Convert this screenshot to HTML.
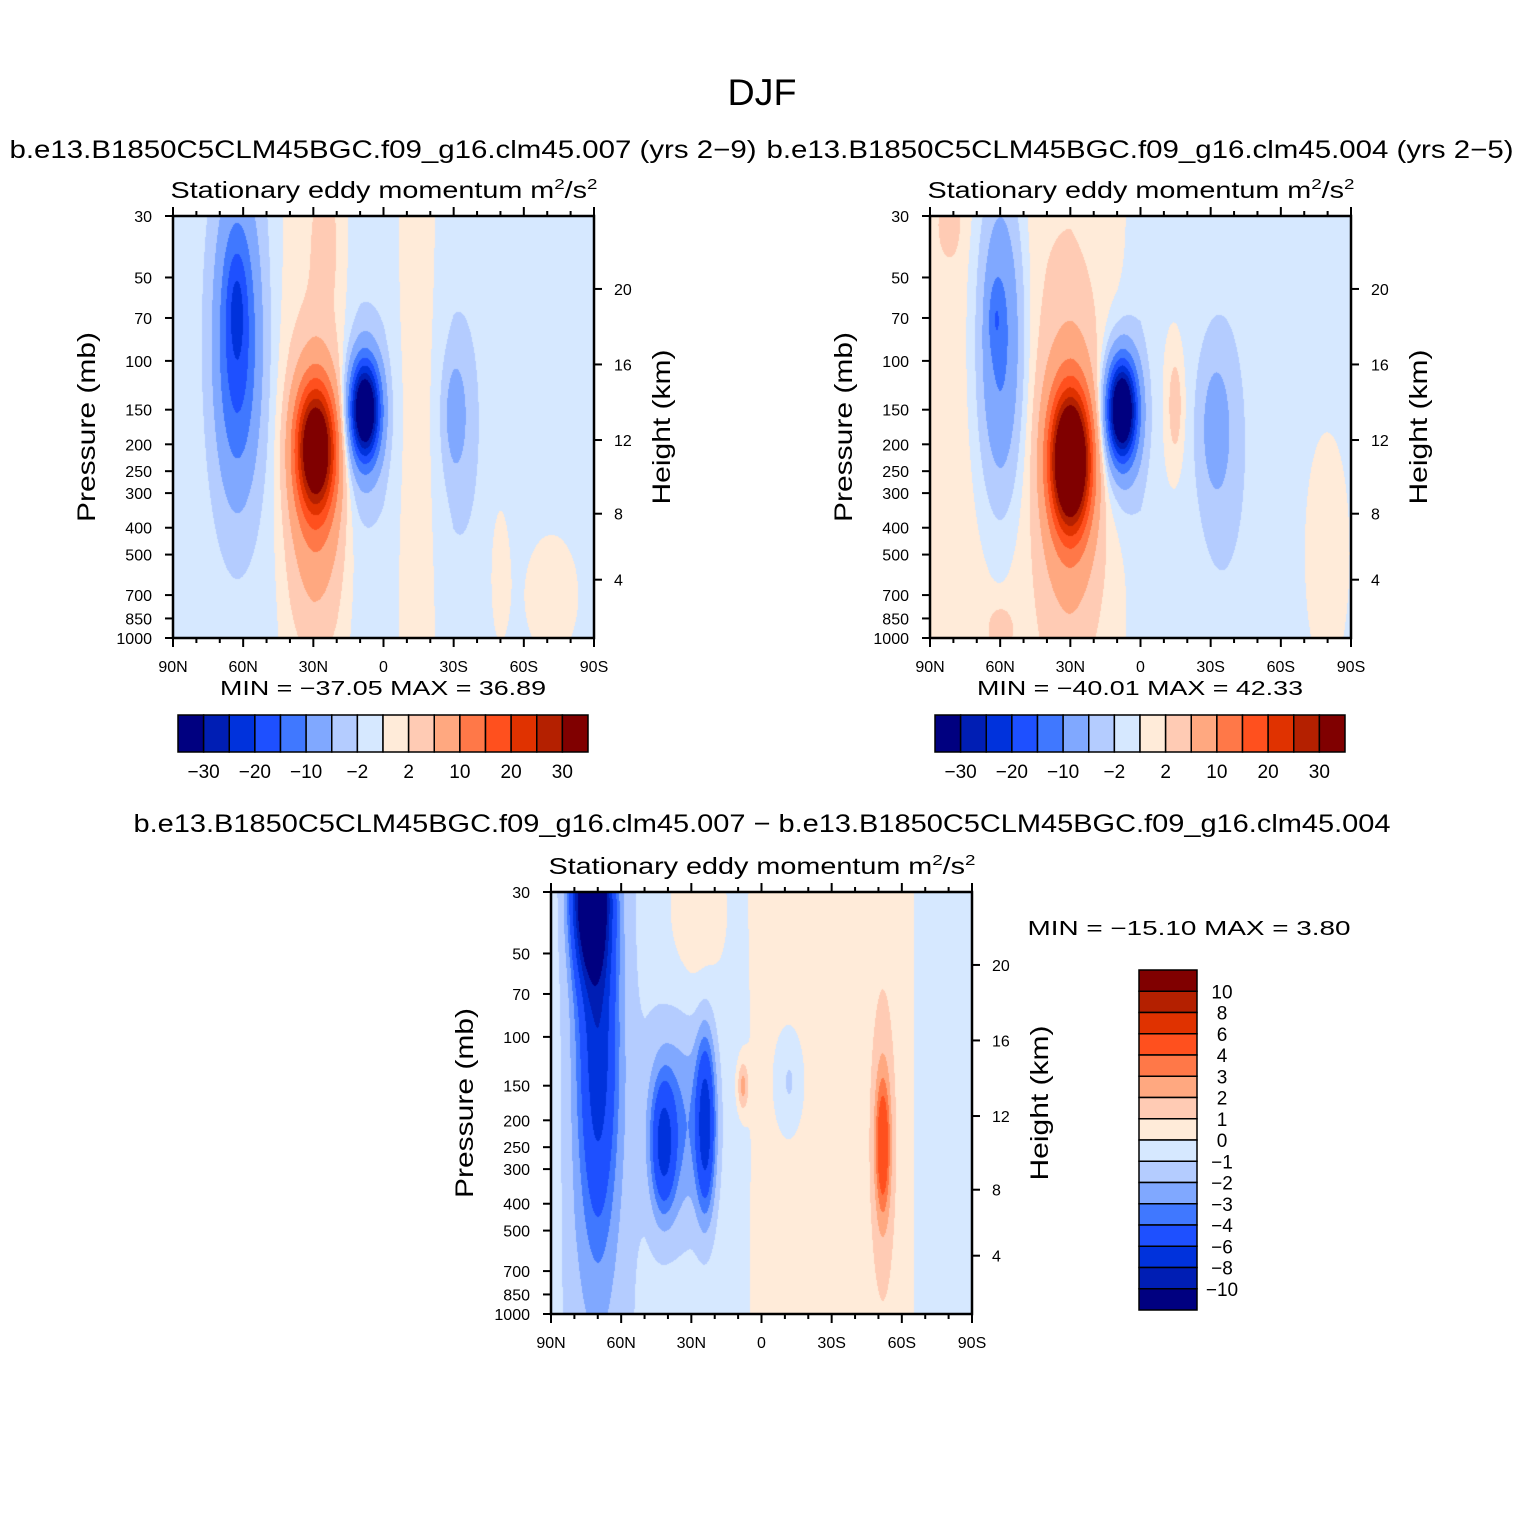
<!DOCTYPE html>
<html><head><meta charset="utf-8">
<style>
body{margin:0;background:#fff;}
#wrap{position:relative;width:1524px;height:1524px;overflow:hidden;background:#fff;font-family:"Liberation Sans",sans-serif;}
canvas{position:absolute;}
svg{position:absolute;left:0;top:0;}
</style></head>
<body>
<div id="wrap">
<canvas id="c1" width="421" height="422" style="left:173px;top:216px"></canvas>
<canvas id="c2" width="421" height="422" style="left:930px;top:216px"></canvas>
<canvas id="c3" width="421" height="422" style="left:551px;top:892px"></canvas>
<svg id="s" width="1524" height="1524"></svg>
</div>
<script>
// ---------- data ----------
const colors = ["#000080","#001eb4","#0032dc","#1e50ff","#4078ff","#80a8ff","#b4ccff","#d6e8ff","#ffebd9","#ffcbb4","#ffa880","#ff7848","#ff501e","#e03200","#b42000","#800000"];
const levelsAbs = [-30,-25,-20,-15,-10,-5,-2,0,2,5,10,15,20,25,30];
const levelsDiff = [-10,-8,-6,-4,-3,-2,-1,0,1,2,3,4,6,8,10];
const pTicks = [30,50,70,100,150,200,250,300,400,500,700,850,1000];
const hTickLabels = [4,8,12,16,20];
const hTickPressure = [616,356,193,103,55];
const latTickLabels = ["90N","60N","30N","0","30S","60S","90S"];
const latTicks = [90,60,30,0,-30,-60,-90];
const bgLats = [90,80,70,60,50,40,30,20,10,0,-10,-20,-30,-40,-50,-60,-70,-80,-90];
const bg1 = [-0.5,-1,-1,-1,-1,0.5,0.8,0.5,-1,-1,0.5,0.3,-1,-1,-1,-1,-1,-1,-1];
const bg2 = [0.6,0.9,0.8,0.8,1,1.5,1.5,1,0.6,-1,-0.4,-1,-1,-1,-1,-1,-1,-1,-1];
const bg3 = [-0.5,-1.5,-1.5,-1.3,-0.7,-0.5,-0.4,-0.4,-0.3,0.3,0.4,0.5,0.5,0.5,0.5,0.5,-0.4,-0.5,-0.5];
// blobs: [lat, pressure-fraction, amplitude, lat-width, frac-width]
const blobs1 = [[62.6,0.3,-18,9,0.33],[63,0.2,-5,4,0.12],[29,0.55,34,8,0.14],[29,0.62,11,11,0.3],[8,0.46,-38,6,0.11],[8,0.48,-6,9,0.2],[-30.6,0.47,-5,5,0.13],[-33,0.5,-2,9,0.3],[25,0.05,2.5,6,0.15],[-72,0.9,2.5,12,0.15],[-50,0.85,1.8,5,0.2]];
const blobs2 = [[60,0.3,-12,9,0.35],[62,0.24,-5,3,0.08],[30,0.58,44,8,0.15],[30,0.6,10,12,0.33],[8,0.46,-40,6,0.11],[8,0.48,-7,9,0.2],[-15,0.45,4,4,0.15],[-32,0.5,-5,6,0.15],[-35,0.55,-2.5,10,0.3],[82,0.02,3,5,0.08],[60,0.98,4,5,0.05],[-80,0.8,2.5,10,0.3]];
const blobs3 = [[73,0.0,-15,7,0.18],[70,0.35,-6,8,0.45],[42,0.6,-5,5,0.15],[24,0.55,-6,4,0.2],[35,0.55,-2.5,14,0.25],[8,0.46,2.6,2.5,0.06],[-52,0.6,4,3,0.15],[-52,0.6,1.5,5,0.35],[-12,0.45,-1.5,6,0.12],[28,0.05,1.2,12,0.2]];

// ---------- drawing ----------
const W=421,H=422;
function pFrac(p){return Math.log(p/30)/Math.log(1000/30);}
function bgAt(bg,lat){
  const i=Math.min(17,Math.floor((90-lat)/10));const t=(90-lat)/10-i;
  return bg[i]*(1-t)+bg[i+1]*t;
}
function hexToRgb(h){return [parseInt(h.substr(1,2),16),parseInt(h.substr(3,2),16),parseInt(h.substr(5,2),16)];}
const rgb=colors.map(hexToRgb);
function drawField(id,bg,blobs,levels){
  const ctx=document.getElementById(id).getContext('2d');
  const img=ctx.createImageData(W,H);
  for(let y=0;y<H;y++){const f=y/(H-1);
    for(let x=0;x<W;x++){const lat=90-x/(W-1)*180;
      let v=bgAt(bg,lat);
      for(const b of blobs){const dl=(lat-b[0])/b[3],df=(f-b[1])/b[4];v+=b[2]*Math.exp(-dl*dl-df*df);}
      let k=0;while(k<levels.length&&v>levels[k])k++;
      const c=rgb[k],o=(y*W+x)*4;img.data[o]=c[0];img.data[o+1]=c[1];img.data[o+2]=c[2];img.data[o+3]=255;}
  }
  ctx.putImageData(img,0,0);
}
drawField('c1',bg1,blobs1,levelsAbs);
drawField('c2',bg2,blobs2,levelsAbs);
drawField('c3',bg3,blobs3,levelsDiff);

const svg=document.getElementById('s');const NS="http://www.w3.org/2000/svg";
function el(tag,attrs,txt){const e=document.createElementNS(NS,tag);for(const k in attrs)e.setAttribute(k,attrs[k]);if(txt!==undefined)e.innerHTML=txt;svg.appendChild(e);return e;}
function txt(x,y,s,size,anchor,name,rot,len){
  const e=el('text',{x:x,y:y,'font-size':size,'text-anchor':anchor||'middle','font-family':'Liberation Sans, sans-serif',fill:'#000'},s);
  if(len){e.setAttribute('textLength',len);e.setAttribute('lengthAdjust','spacingAndGlyphs');}
  if(rot)e.setAttribute('transform','rotate(-90 '+x+' '+y+')');
  
  
  return e;
}
function axes(x0,y0,tag){
  const r=el('rect',{x:x0,y:y0,width:W,height:H,fill:'none',stroke:'#000','stroke-width':2.5});
  
  
  const xs=lat=>x0+(90-lat)/180*W, ys=p=>y0+pFrac(p)*H;
  for(let lat=90;lat>=-90;lat-=10){const major=lat%30===0;const x=xs(lat);const L=major?9:5;
    el('line',{x1:x,y1:y0+H,x2:x,y2:y0+H+L,stroke:'#000','stroke-width':2});
    el('line',{x1:x,y1:y0,x2:x,y2:y0-L,stroke:'#000','stroke-width':2});}
  latTicks.forEach((lat,i)=>txt(xs(lat),y0+H+34,latTickLabels[i],16,'middle','x-tick-label'));
  pTicks.forEach(p=>{const y=ys(p);el('line',{x1:x0-8,y1:y,x2:x0,y2:y,stroke:'#000','stroke-width':2});
    txt(x0-21,y+6,String(p),16,'end','y-tick-label');});
  hTickPressure.forEach((p,i)=>{const y=ys(p);el('line',{x1:x0+W,y1:y,x2:x0+W+8,y2:y,stroke:'#000','stroke-width':2});
    txt(x0+W+20,y+6,String(hTickLabels[i]),16,'start','height-tick-label');});
  txt(x0-78,y0+211,'Pressure (mb)',25,'middle','y-axis-title',true,190);
  txt(x0+W+76,y0+211,'Height (km)',25,'middle','height-axis-title',true,155);
  txt(x0+211,y0-18,'Stationary eddy momentum  m<tspan dy="-9" font-size="15">2</tspan><tspan dy="9">/s</tspan><tspan dy="-9" font-size="15">2</tspan>',23,'middle','panel-title',false,427);
}
axes(173,216,'a');axes(930,216,'b');axes(551,892,'c');

txt(762,105,'DJF',37,'middle','figure-title',false,69);
txt(383,158,'b.e13.B1850C5CLM45BGC.f09_g16.clm45.007 (yrs 2−9)',25,'middle','case-title-left',false,747);
txt(1140,158,'b.e13.B1850C5CLM45BGC.f09_g16.clm45.004 (yrs 2−5)',25,'middle','case-title-right',false,747);
txt(762,832,'b.e13.B1850C5CLM45BGC.f09_g16.clm45.007 − b.e13.B1850C5CLM45BGC.f09_g16.clm45.004',25,'middle','diff-title',false,1257);
txt(383,695,'MIN = −37.05   MAX =   36.89',20,'middle','minmax-left',false,326);
txt(1140,695,'MIN = −40.01   MAX =   42.33',20,'middle','minmax-right',false,326);
txt(1189,935,'MIN = −15.10   MAX =    3.80',20,'middle','minmax-diff',false,323);

// horizontal colorbars
const cbLabels=["−30","−20","−10","−2","2","10","20","30"];
const cbLabelIdx=[1,3,5,7,9,11,13,15];
function hbar(x0,tag){const bw=410/16;
  colors.forEach((c,i)=>{const r=el('rect',{x:x0+i*bw,y:715,width:bw,height:37,fill:c,stroke:'#000','stroke-width':1.5});
    
    });
  cbLabelIdx.forEach((k,i)=>txt(x0+k*bw,778,cbLabels[i],19,'middle','colorbar-label'));
}
hbar(178,'a');hbar(935,'b');
// vertical colorbar
const vbLabels=["10","8","6","4","3","2","1","0","−1","−2","−3","−4","−6","−8","−10"];
const bh=340/16;
colors.slice().reverse().forEach((c,i)=>{const r=el('rect',{x:1139,y:970+i*bh,width:58,height:bh,fill:c,stroke:'#000','stroke-width':1.5});
  
  });
vbLabels.forEach((s,i)=>txt(1222,970+(i+1)*bh+7,s,19,'middle','colorbar-label-diff'));
</script>
</body></html>
